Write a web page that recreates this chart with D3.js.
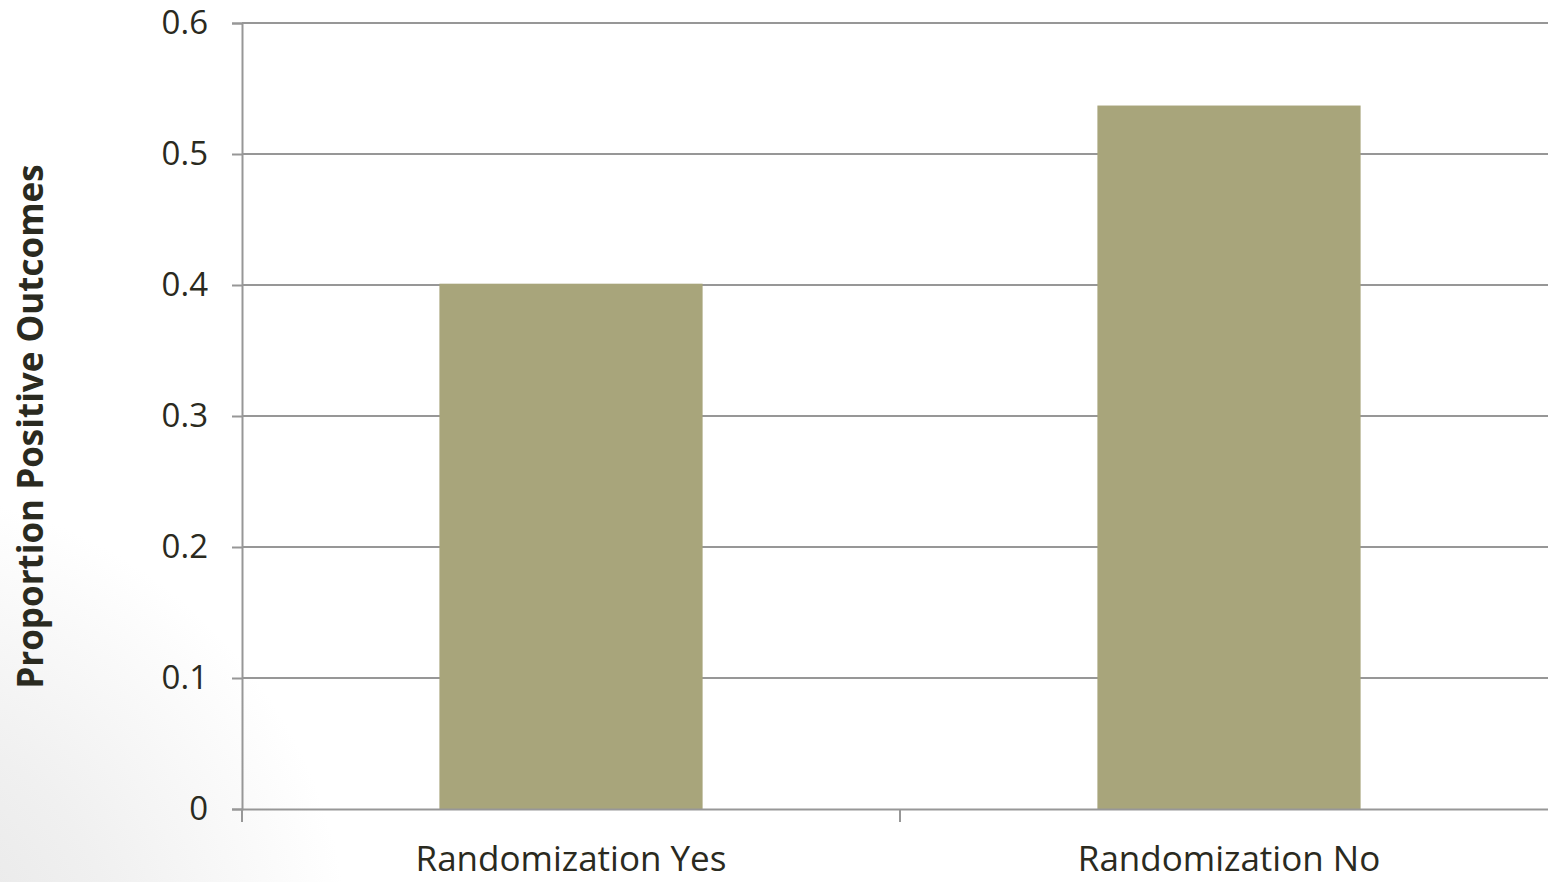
<!DOCTYPE html>
<html>
<head>
<meta charset="utf-8">
<script src="https://cdn.jsdelivr.net/npm/d3@7"></script>
<style>
  html, body { margin: 0; padding: 0; background: #fff; }
  svg { display: block; }
</style>
</head>
<body>
<svg id="chart" width="1548" height="882"></svg>
<script>
// Proportion of positive outcomes by randomization status
const categories = ["Randomization Yes", "Randomization No"];
const proportions = [0.401, 0.537];
const yTicks = [0, 0.1, 0.2, 0.3, 0.4, 0.5, 0.6];
const yTitle = "Proportion Positive Outcomes";

const svg = d3.select("#chart");
const W = 1548, H = 882;
const margin = { left: 242, top: 23, bottom: 73 };
const bandWidth = 658;

// soft shaded corner at the lower left of the slide
const defs = svg.append("defs");
const grad = defs.append("radialGradient")
  .attr("id", "corner")
  .attr("gradientUnits", "userSpaceOnUse")
  .attr("cx", -120).attr("cy", 960).attr("r", 470);
grad.append("stop").attr("offset", "0").attr("stop-color", "#e4e4e4");
grad.append("stop").attr("offset", "0.5").attr("stop-color", "#f0f0f0");
grad.append("stop").attr("offset", "1").attr("stop-color", "#ffffff");
svg.append("rect").attr("x", 0).attr("y", 0).attr("width", W).attr("height", H)
  .attr("fill", "url(#corner)");

const x = d3.scaleBand()
  .domain(categories)
  .range([margin.left, margin.left + bandWidth * categories.length])
  .paddingInner(0).paddingOuter(0);

const y = d3.scaleLinear()
  .domain([0, 0.6])
  .range([H - margin.bottom, margin.top]);

const gridColor = "#979797";
const textColor = "#2a2a20";
const font = "'Open Sans', sans-serif";

// horizontal gridlines
svg.append("g")
  .selectAll("line")
  .data(yTicks.filter(d => d > 0))
  .join("line")
  .attr("x1", margin.left).attr("x2", W)
  .attr("y1", d => y(d)).attr("y2", d => y(d))
  .attr("stroke", gridColor).attr("stroke-width", 2);

// bars
const barW = bandWidth * 0.4;
svg.append("g")
  .selectAll("rect")
  .data(categories.map((c, i) => ({ c, v: proportions[i] })))
  .join("rect")
  .attr("x", d => x(d.c) + x.bandwidth() / 2 - barW / 2)
  .attr("width", barW)
  .attr("y", d => y(d.v))
  .attr("height", d => y(0) - y(d.v))
  .attr("fill", "#a8a57b");

// y axis
const yAxis = svg.append("g")
  .attr("transform", `translate(${margin.left},0)`)
  .call(d3.axisLeft(y).tickValues(yTicks).tickSize(10).tickPadding(24)
    .tickFormat(d => d === 0 ? "0" : d3.format(".1f")(d)));
yAxis.select(".domain").attr("stroke", gridColor).attr("stroke-width", 2);
yAxis.selectAll(".tick line").attr("stroke", gridColor).attr("stroke-width", 2);
yAxis.selectAll(".tick text")
  .attr("fill", textColor)
  .style("font-family", font)
  .style("font-size", "33px");

// x axis
const xAxis = svg.append("g")
  .attr("transform", `translate(0,${y(0)})`)
  .call(d3.axisBottom(x).tickSize(0).tickPadding(37));
xAxis.select(".domain").attr("stroke", gridColor).attr("stroke-width", 2);
xAxis.selectAll(".tick text")
  .attr("fill", textColor)
  .style("font-family", font)
  .style("font-size", "35px");

// category separators on the x axis
const seps = [margin.left, ...categories.map(c => x(c) + x.bandwidth())];
svg.append("g")
  .selectAll("line")
  .data(seps)
  .join("line")
  .attr("x1", d => d).attr("x2", d => d)
  .attr("y1", y(0)).attr("y2", y(0) + 13)
  .attr("stroke", gridColor).attr("stroke-width", 2);

// y axis title
svg.append("text")
  .attr("transform", `translate(43,${(163 + 690) / 2}) rotate(-90)`)
  .attr("text-anchor", "middle")
  .attr("fill", textColor)
  .style("font-family", font)
  .style("font-size", "35px")
  .style("font-weight", "bold")
  .text(yTitle);
</script>
</body>
</html>
